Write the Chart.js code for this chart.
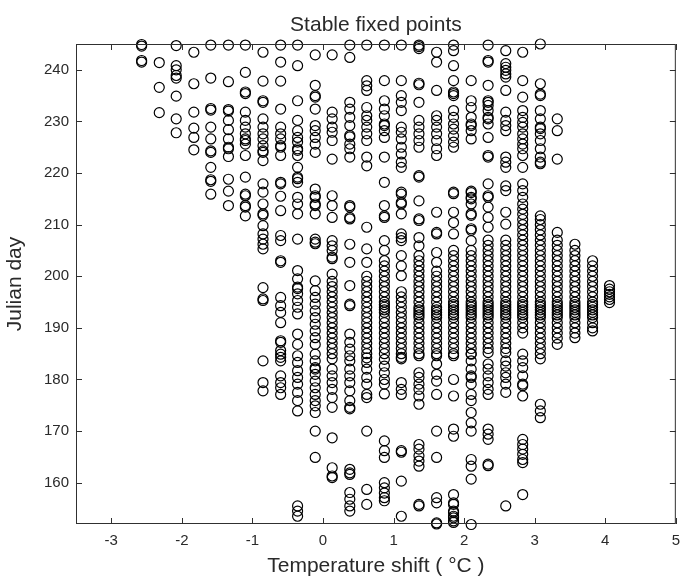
<!DOCTYPE html>
<html>
<head>
<meta charset="utf-8">
<title>Stable fixed points</title>
<script src="https://cdn.jsdelivr.net/npm/chart.js@4.4.1/dist/chart.umd.min.js"></script>
<style>
  html, body { margin: 0; padding: 0; background: #fff; }
  #wrap { width: 688px; height: 577px; }
</style>
</head>
<body>
<div id="wrap"><canvas id="chart" width="688" height="577"></canvas></div>
<script>
// temperature shift of each column of fixed points (deg C)
const shifts = [-2.57, -2.32, -2.08, -1.83, -1.59, -1.34, -1.10, -0.85, -0.60, -0.36,
  -0.11, 0.13, 0.38, 0.62, 0.87, 1.11, 1.36, 1.61, 1.85, 2.10,
  2.34, 2.59, 2.83, 3.08, 3.32, 3.57, 3.82, 4.06];

// julian days of the stable fixed points, one list per column
const day00 = [244.9, 244.6, 241.8, 241.5];
const day01 = [241.4, 236.6, 231.7];
const day02 = [244.7, 240.8, 240.0, 238.9, 238.4, 234.9, 230.5, 227.8];
const day03 = [243.4, 237.3, 231.8, 228.7, 226.9, 224.5];
const day04 = [244.8, 238.4, 232.5, 232.2, 228.9, 226.6, 224.3, 224.0, 221.1, 218.7, 218.4, 215.9];
const day05 = [244.8, 237.7, 232.3, 232.0, 230.2, 228.4, 226.6, 225.0, 224.7, 223.2, 218.8, 216.5, 213.7];
const day06 = [244.8, 239.5, 235.7, 235.4, 231.8, 230.2, 228.9, 227.6, 226.6, 226.3, 225.6, 223.4, 219.2,
  215.9, 215.6, 213.7, 213.4, 211.7];
const day07 = [243.4, 237.8, 234.0, 233.7, 230.5, 228.9, 227.6, 226.6, 225.3, 224.3, 224.0, 222.4, 217.9,
  216.3, 214.0, 212.1, 211.8, 209.8, 208.2, 207.2, 206.2, 205.3, 197.8, 195.6, 195.3, 183.6, 179.4, 177.8];
const day08 = [244.8, 241.5, 237.8, 232.4, 228.9, 227.6, 226.6, 225.3, 225.0, 223.4, 218.2, 217.9, 215.5,
  212.7, 207.9, 206.9, 203.0, 202.7, 195.9, 194.3, 193.0, 191.0, 187.5, 187.2, 185.6, 184.9, 184.3, 183.6,
  180.7, 179.4, 178.4, 177.1];
const day09 = [244.8, 240.8, 234.0, 230.2, 228.2, 226.9, 226.0, 224.7, 224.4, 223.4, 221.1, 219.2, 218.9,
  218.2, 215.3, 214.0, 212.1, 207.2, 201.1, 199.5, 197.9, 197.6, 196.6, 195.3, 194.0, 192.7, 188.8, 186.8,
  184.6, 183.3, 181.7, 180.4, 179.1, 177.5, 175.9, 173.9, 155.5, 154.5, 153.5];
const day10 = [242.9, 237.0, 235.0, 234.7, 232.4, 229.2, 228.2, 226.9, 225.6, 224.0, 216.9, 215.6, 215.3,
  214.0, 213.7, 212.1, 207.2, 206.6, 206.3, 199.1, 197.2, 195.9, 194.6, 193.3, 192.0, 190.7, 189.4, 188.1,
  186.8, 184.9, 183.6, 182.3, 182.0, 181.0, 179.7, 178.4, 177.1, 175.9, 174.9, 173.6, 170.0, 164.9];
const day11 = [242.9, 231.8, 230.5, 228.9, 227.9, 226.3, 222.7, 215.6, 213.7, 211.4, 206.9, 205.9, 205.0,
  203.7, 203.4, 200.4, 199, 198, 197, 196, 195, 194, 193, 192, 191, 190, 189, 188, 187, 186, 185, 184,
  182.0, 180.7, 179.4, 178.1, 176.5, 174.6, 168.7, 162.9, 161.3, 161.0];
const day12 = [244.8, 242.4, 233.7, 232.4, 230.8, 229.2, 227.3, 227.0, 225.6, 224.7, 223.1, 213.7, 213.4,
  211.4, 211.1, 206.2, 202.7, 198.2, 194.6, 194.3, 188.8, 187.2, 185.9, 184.6, 183.6, 182.0, 180.7, 179.4,
  177.8, 175.9, 174.6, 174.3, 162.6, 161.9, 161.6, 158.1, 156.8, 155.5, 154.5];
const day13 = [244.8, 237.9, 236.9, 236.0, 232.7, 231.1, 230.2, 228.9, 227.6, 226.3, 223.1, 221.4, 209.5,
  205.3, 202.7, 200, 199, 198, 197, 196, 195, 194, 193, 192, 191, 190, 189, 188, 187, 186, 185, 184.2,
  183.3, 182.0, 180.4, 179.1, 177.1, 176.5, 170.0, 158.7, 155.8];
const day14 = [244.8, 237.9, 234.0, 232.4, 231.1, 229.5, 229.2, 228.2, 226.9, 223.1, 218.2, 213.7, 211.7,
  211.4, 206.9, 205.0, 203, 202, 201, 200, 199, 198, 197, 196, 195, 194.5, 194, 193.5, 193, 192, 191, 190,
  189, 188, 187, 186, 185, 183.9, 182.6, 181.3, 180.0, 179.1, 177.2, 168.1, 166.2, 164.9, 160.0, 159.0,
  158.0, 157.1, 156.5];
const day15 = [244.8, 237.9, 235.0, 233.7, 232.1, 228.9, 227.9, 226.6, 225.0, 223.7, 222.1, 221.1, 216.3,
  215.9, 214.3, 214.0, 212.1, 208.2, 207.5, 206.9, 204.0, 202.0, 200.1, 197, 196, 195, 194, 193, 192, 191,
  190, 189, 188, 187, 186, 185, 184.3, 184.0, 179.4, 178.1, 177.1, 166.2, 165.9, 160.3, 153.5];
const day16 = [244.8, 244.5, 244.1, 237.4, 237.1, 233.7, 230.2, 228.9, 227.6, 226.3, 225.0, 219.5, 219.2,
  214.6, 211.1, 210.8, 207.5, 205.9, 204, 203, 202, 201, 200, 199, 198, 197, 196, 195, 194, 193.5, 193,
  192.5, 192, 191, 190, 189, 188, 187, 186, 185, 184.6, 181.3, 180.4, 179.1, 178.1, 176.8, 175.2, 167.4,
  166.5, 165.2, 164.2, 163.2, 155.8, 155.5];
const day17 = [243.4, 241.5, 236.0, 231.1, 230.2, 228.9, 227.6, 226.3, 224.7, 223.4, 212.4, 208.5, 208.2,
  204.6, 202.7, 201, 200, 199, 198, 197, 196, 195, 194, 193.5, 193, 192.5, 192, 191, 190, 189, 188, 187,
  186, 185, 184.6, 183.0, 181.0, 179.7, 177.1, 170.0, 164.9, 157.1, 156.1, 152.2, 152.0];
const day18 = [244.8, 243.7, 240.8, 237.9, 235.7, 235.4, 235.0, 232.1, 230.8, 229.5, 228.5, 227.2, 226.0,
  225.0, 216.3, 216.0, 212.4, 210.4, 208.2, 205, 204, 203, 202, 201, 200, 199, 198, 197, 196, 195, 194.5,
  194, 193.5, 193, 192.5, 192, 191, 190, 189, 188, 187, 186, 185, 184.6, 180.0, 176.8, 170.4, 169.0,
  157.7, 156.1, 155.8, 154.5, 154.2, 153.5, 153.2, 152.6, 152.3];
const day19 = [237.9, 234.0, 232.7, 230.8, 229.5, 229.2, 228.2, 226.6, 216.5, 216.2, 215.3, 215.0, 214.0,
  212.1, 211.8, 209.2, 208.9, 206.9, 205, 204, 203, 202, 201, 200, 199, 198, 197, 196, 195, 194.5, 194,
  193.5, 193, 192.5, 192, 191, 190, 189, 188, 187, 186, 185, 184.9, 183.6, 182.0, 180.7, 180.4, 179.1,
  177.1, 175.9, 173.6, 171.6, 170.0, 164.5, 163.2, 160.7, 151.9];
const day20 = [244.8, 241.8, 241.5, 237.0, 234.0, 233.7, 233.1, 232.1, 230.8, 230.5, 229.5, 226.9, 223.4,
  223.1, 217.9, 215.6, 215.3, 213.4, 211.4, 209.5, 207, 206, 205, 204, 203, 202, 201, 200, 199, 198, 197,
  196, 195, 194.5, 194, 193.5, 193, 192.5, 192, 191, 190, 189, 188, 187, 186, 185.2, 183.0, 182.0, 180.7,
  179.4, 178.1, 177.1, 170.4, 169.4, 168.4, 163.6, 163.3];
const day21 = [243.7, 241.2, 240.5, 239.9, 239.2, 238.6, 236.0, 231.8, 230.2, 229.2, 228.2, 223.1, 222.1,
  221.1, 217.5, 216.6, 212.4, 210.1, 207, 206, 205, 204, 203, 202, 201, 200, 199, 198, 197, 196, 195,
  194.5, 194, 193.5, 193, 192.5, 192, 191, 190, 189, 188, 187, 186, 185.2, 183.6, 182.6, 181.3, 180.4,
  179.1, 177.5, 155.5];
const day22 = [243.4, 237.9, 234.7, 232.1, 230.8, 229.8, 228.9, 227.6, 226.6, 225.6, 224.7, 223.4, 221.1,
  217.9, 216.6, 215.3, 214, 213, 212, 211, 210, 209, 208, 207, 206, 205, 204, 203, 202, 201, 200, 199,
  198, 197, 196, 195, 194.5, 194, 193.5, 193, 192.5, 192, 191, 190, 189, 184.9, 183.6, 182.3, 180.7,
  179.1, 178.8, 176.8, 168.4, 167.4, 166.5, 165.5, 164.5, 163.9, 157.7];
const day23 = [245.0, 237.3, 235.3, 235.0, 232.1, 230.5, 228.9, 228.6, 227.6, 226.3, 224.7, 223.1, 222.1,
  221.8, 211.7, 211, 210, 209, 208, 207, 206, 205, 204, 203, 202, 201, 200, 199, 198, 197, 196, 195,
  194.5, 194, 193.5, 193, 192.5, 192, 191, 190, 189, 188, 187, 186, 185, 184, 175.2, 173.9, 172.6];
const day24 = [230.5, 228.2, 222.7, 208.5, 207, 206, 205, 204, 203, 202, 201, 200, 199, 198, 197, 196,
  195, 194.5, 194, 193.5, 193, 192.5, 192, 191, 190, 189, 188, 186.8];
const day25 = [206.2, 205, 204, 203, 202, 201, 200, 199, 198, 197, 196, 195, 194.5, 194, 193.5, 193,
  192.5, 192, 191, 190, 189, 188.1];
const day26 = [203, 202, 201, 200, 199, 198, 197, 196, 195, 194.5, 194, 193.5, 193, 192.5, 192, 191,
  190, 189.4];
const day27 = [198.2, 197.5, 197, 196.5, 196, 195.5, 194.9];

const dayCols = [day00, day01, day02, day03, day04, day05, day06, day07, day08, day09,
  day10, day11, day12, day13, day14, day15, day16, day17, day18, day19,
  day20, day21, day22, day23, day24, day25, day26, day27];

const xTicks = [-3, -2, -1, 0, 1, 2, 3, 4, 5];
const yTicks = [160, 170, 180, 190, 200, 210, 220, 230, 240];

const FONT = '"Liberation Sans", Arial, Helvetica, sans-serif';
const INK = '#2a2a2a';

const points = [];
shifts.forEach((sx, i) => {
  dayCols[i].forEach(d => points.push({ x: sx, y: d }));
});

// matlab-style box: frame on all four sides, ticks pointing inward, axis captions
const axesBox = {
  id: 'axesBox',
  afterDatasetsDraw(chart) {
    const { ctx, chartArea: a, scales: { x, y } } = chart;
    const tl = 6;
    ctx.save();
    ctx.strokeStyle = '#303030';
    ctx.lineWidth = 1;
    ctx.strokeRect(a.left + 0.5, a.top + 0.5, a.right - a.left - 1, a.bottom - a.top - 1);
    ctx.beginPath();
    xTicks.forEach(v => {
      const px = Math.round(x.getPixelForValue(v)) + 0.5;
      ctx.moveTo(px, a.bottom); ctx.lineTo(px, a.bottom - tl);
      ctx.moveTo(px, a.top); ctx.lineTo(px, a.top + tl);
    });
    yTicks.forEach(v => {
      const py = Math.round(y.getPixelForValue(v)) + 0.5;
      ctx.moveTo(a.left, py); ctx.lineTo(a.left + tl, py);
      ctx.moveTo(a.right, py); ctx.lineTo(a.right - tl, py);
    });
    ctx.stroke();

    ctx.fillStyle = INK;
    ctx.textAlign = 'center';
    ctx.textBaseline = 'alphabetic';
    const cx = (a.left + a.right) / 2;
    ctx.font = '21px ' + FONT;
    ctx.fillText('Stable fixed points', cx, 31);
    ctx.fillText('Temperature shift ( °C )', cx, a.bottom + 48);
    ctx.translate(21, (a.top + a.bottom) / 2);
    ctx.rotate(-Math.PI / 2);
    ctx.fillText('Julian day', 0, 0);
    ctx.restore();
  }
};

new Chart(document.getElementById('chart'), {
  type: 'scatter',
  data: {
    datasets: [{
      data: points,
      pointStyle: 'circle',
      pointRadius: 5,
      pointHoverRadius: 5,
      borderWidth: 1.2,
      borderColor: '#000',
      backgroundColor: 'rgba(0,0,0,0)',
      clip: false
    }]
  },
  options: {
    responsive: false,
    animation: false,
    devicePixelRatio: 1,
    layout: { padding: { top: 44, right: 4, left: 0, bottom: 0 } },
    plugins: {
      legend: { display: false },
      tooltip: { enabled: false },
      title: { display: false }
    },
    scales: {
      x: {
        type: 'linear',
        min: -3.5,
        max: 5,
        afterBuildTicks: s => { s.ticks = xTicks.map(v => ({ value: v })); },
        afterFit: s => { s.height = 53; },
        grid: { display: false, drawTicks: false },
        border: { display: false },
        ticks: { autoSkip: false, maxRotation: 0, padding: 8, color: INK, font: { family: FONT, size: 15 } }
      },
      y: {
        type: 'linear',
        min: 152,
        max: 245,
        afterBuildTicks: s => { s.ticks = yTicks.map(v => ({ value: v })); },
        afterFit: s => { s.width = 76; },
        grid: { display: false, drawTicks: false },
        border: { display: false },
        ticks: { autoSkip: false, padding: 7, color: INK, font: { family: FONT, size: 15 } }
      }
    }
  },
  plugins: [axesBox]
});
</script>
</body>
</html>
